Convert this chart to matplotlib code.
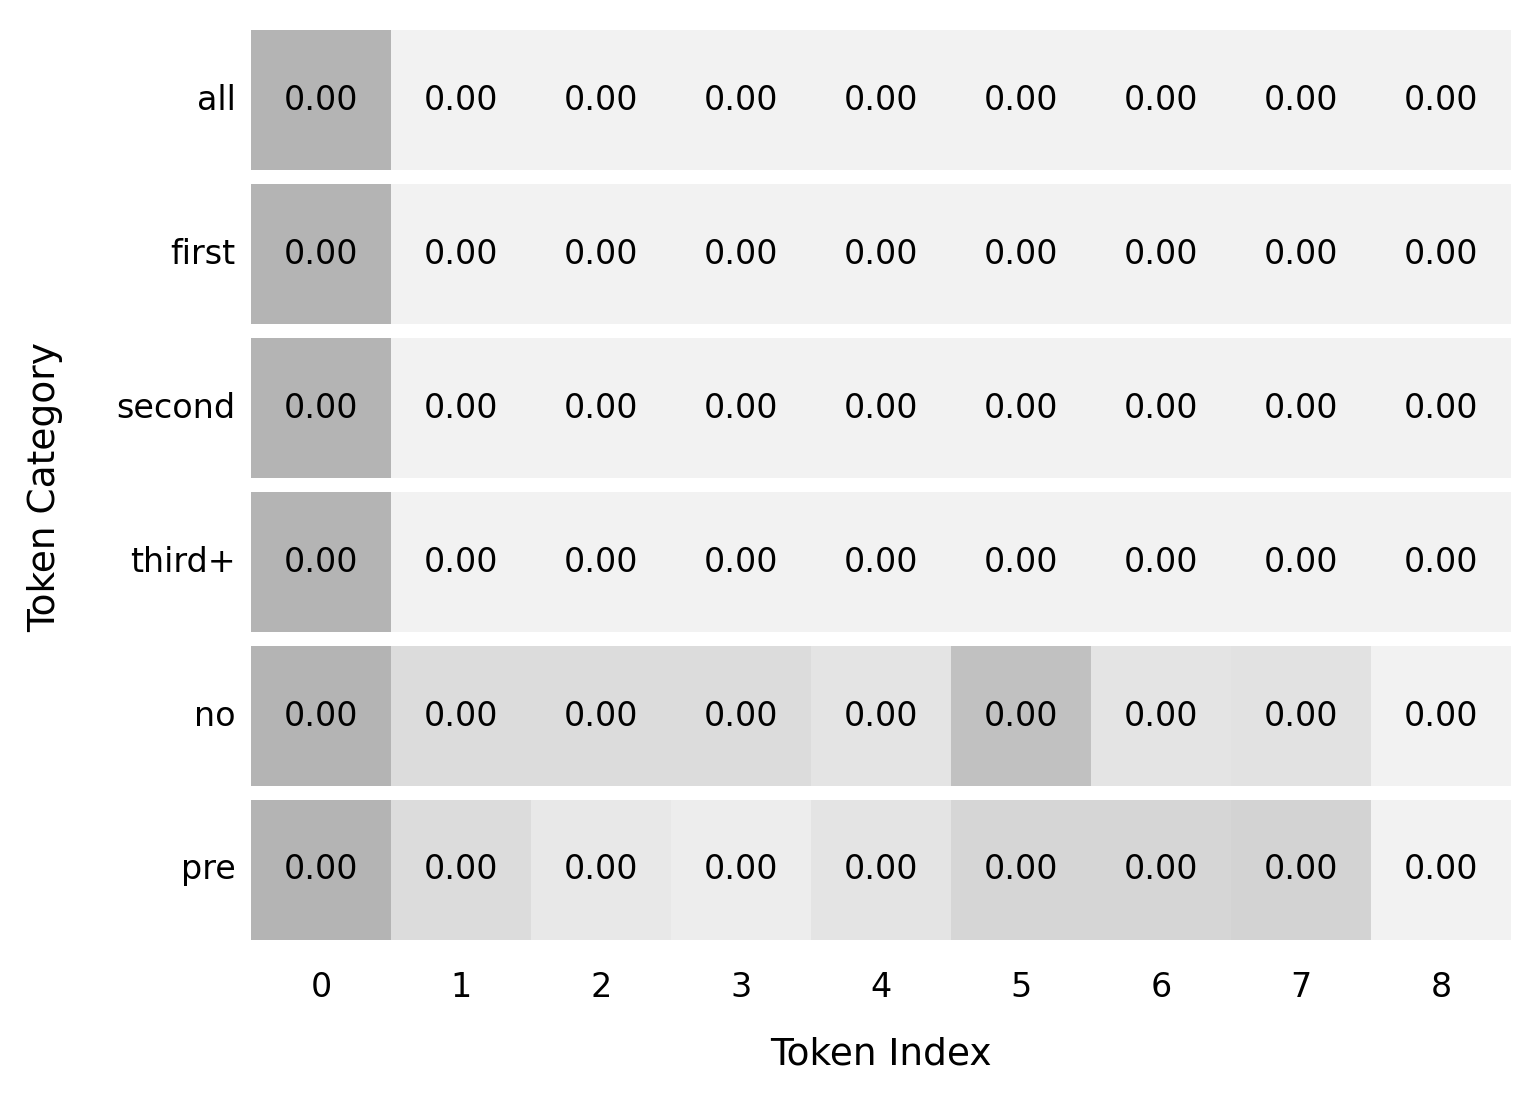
import numpy as np
import matplotlib
matplotlib.use("Agg")
import matplotlib.pyplot as plt
from matplotlib.colors import LinearSegmentedColormap

categories = ["all", "first", "second", "third+", "no", "pre"]
token_index = ["0", "1", "2", "3", "4", "5", "6", "7", "8"]

# values (tiny, all display as 0.00)
row_all    = [0.00400, 0.00010, 0.00010, 0.00010, 0.00010, 0.00010, 0.00010, 0.00010, 0.00010]
row_first  = [0.00400, 0.00010, 0.00010, 0.00010, 0.00010, 0.00010, 0.00010, 0.00010, 0.00010]
row_second = [0.00400, 0.00010, 0.00010, 0.00010, 0.00010, 0.00010, 0.00010, 0.00010, 0.00010]
row_third  = [0.00400, 0.00010, 0.00010, 0.00010, 0.00010, 0.00010, 0.00010, 0.00010, 0.00010]
row_no     = [0.00200, 0.000916, 0.000916, 0.000916, 0.00070, 0.001647, 0.00070, 0.000753, 0.00032]
row_pre    = [0.00200, 0.000916, 0.00059, 0.000454, 0.00070, 0.001076, 0.001076, 0.00116, 0.00032]
rows = [row_all, row_first, row_second, row_third, row_no, row_pre]

cmap = LinearSegmentedColormap.from_list("g", ["#f2f2f2", "#b4b4b4"])

W, H, DPI = 1540, 1106, 200
fig = plt.figure(figsize=(W / DPI, H / DPI), dpi=DPI)
gs = fig.add_gridspec(len(rows), 1, left=251 / W, right=1511 / W,
                      top=1 - 30 / H, bottom=1 - 940 / H, hspace=0.1)

for i, (cat, vals) in enumerate(zip(categories, rows)):
    ax = fig.add_subplot(gs[i, 0])
    v = np.array(vals)[None, :]
    ax.pcolormesh(np.arange(len(vals) + 1), [0, 1], v, cmap=cmap,
                  vmin=v.min(), vmax=v.max())
    for j, val in enumerate(vals):
        ax.text(j + 0.5, 0.5, f"{val:.2f}", ha="center", va="center",
                fontsize=12, color="black")
    ax.set_xlim(0, len(vals))
    ax.set_ylim(0, 1)
    ax.set_yticks([0.5])
    ax.set_yticklabels([cat], fontsize=12, va="center")
    ax.tick_params(axis="both", length=0, pad=5.5)
    for s in ax.spines.values():
        s.set_visible(False)
    if i == len(rows) - 1:
        ax.set_xticks(np.arange(len(vals)) + 0.5)
        ax.set_xticklabels(token_index, fontsize=12)
        ax.tick_params(axis="x", pad=11)
        ax.set_xlabel("Token Index", fontsize=13.5, labelpad=12)
    else:
        ax.set_xticks([])

fig.text(45 / W, 1 - 487 / H, "Token Category", rotation=90, ha="center",
         va="center", fontsize=13.5)

fig.savefig("out.png", dpi=DPI, facecolor="white")
